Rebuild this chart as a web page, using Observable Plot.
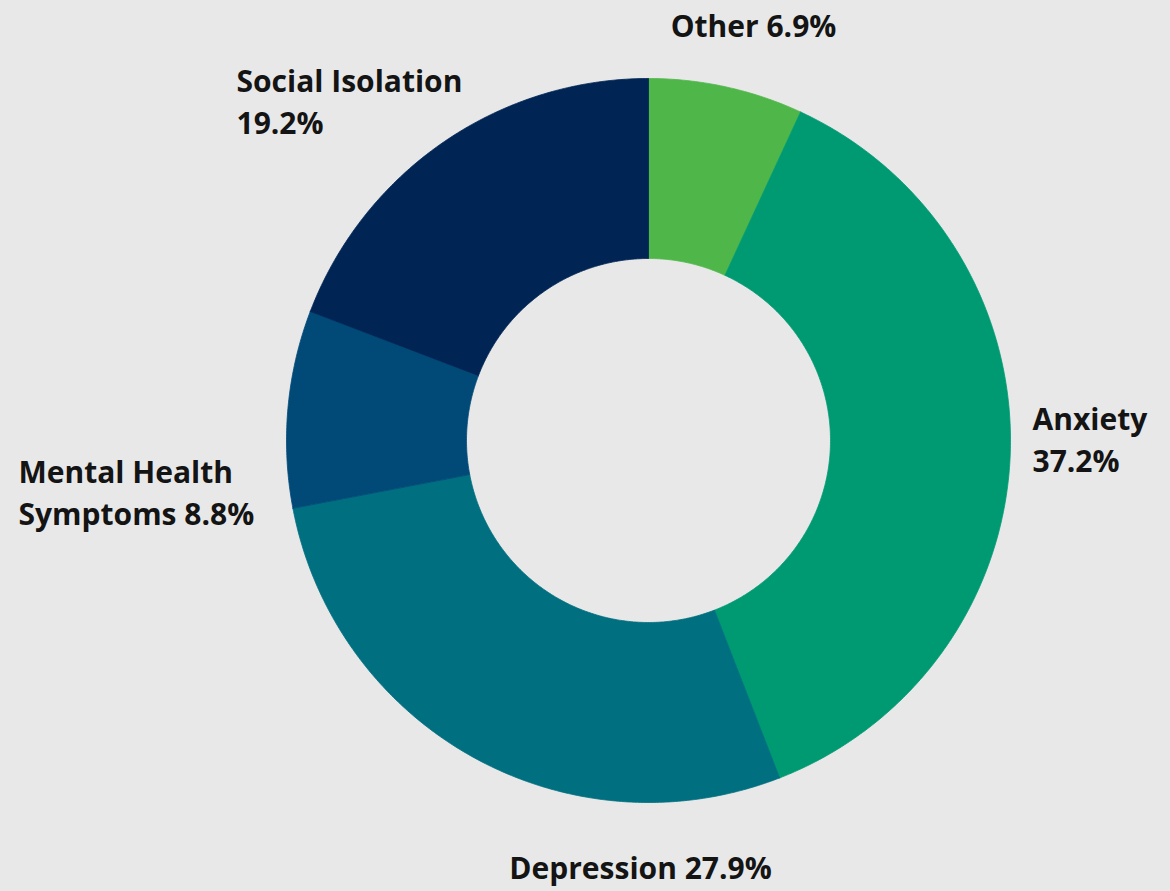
<!DOCTYPE html>
<html>
<head>
<meta charset="utf-8">
<script src="https://cdn.jsdelivr.net/npm/d3@7"></script>
<script src="https://cdn.jsdelivr.net/npm/@observablehq/plot@0.6"></script>
<style>
  html, body { margin: 0; padding: 0; background: #e8e8e8; }
  #chart svg { display: block; }
</style>
</head>
<body>
<div id="chart"></div>
<script>
// ---- data ----
const categories = ["Other", "Anxiety", "Depression", "Mental Health Symptoms", "Social Isolation"];
const values = [6.9, 37.2, 27.9, 8.8, 19.2];
const colors = ["#4fb74a", "#009a72", "#006f80", "#014a78", "#002554"];
const labelNames = ["Other", "Anxiety", "Depression", "Mental Health\nSymptoms", "Social Isolation"];
const labelBreak = [" ", "\n", " ", " ", "\n"];

// ---- layout ----
const W = 1170, H = 891;
const cx = 648, cy = 440, R = 362, r = 182;
// label anchor in pixels (last-line baseline) and text anchor
const labelLayout = [
  {px: 753, py: 36, anchor: "middle"},
  {px: 1032, py: 471, anchor: "start"},
  {px: 640, py: 878, anchor: "middle"},
  {px: 18, py: 524, anchor: "start"},
  {px: 236, py: 133, anchor: "start"}
];

const pie = d3.pie().sort(null).value(d => d.value);
const rows = categories.map((c, i) => ({category: c, value: values[i]}));
const arcs = pie(rows);

// polygon points for each slice (in data units: pixel offsets from centre, y up)
const pts = [];
arcs.forEach(a => {
  const n = Math.max(8, Math.ceil((a.endAngle - a.startAngle) / (Math.PI / 360)));
  const seg = [];
  for (let k = 0; k <= n; k++) {
    const t = a.startAngle + (a.endAngle - a.startAngle) * k / n;
    seg.push({category: a.data.category, x: R * Math.sin(t), y: R * Math.cos(t)});
  }
  for (let k = n; k >= 0; k--) {
    const t = a.startAngle + (a.endAngle - a.startAngle) * k / n;
    seg.push({category: a.data.category, x: r * Math.sin(t), y: r * Math.cos(t)});
  }
  seg.push({...seg[0]});
  pts.push(...seg);
});

const labels = categories.map((c, i) => ({
  text: labelNames[i] + labelBreak[i] + values[i].toFixed(1) + "%",
  x: labelLayout[i].px - cx,
  y: cy - labelLayout[i].py,
  anchor: labelLayout[i].anchor
}));

const textOpts = {
  fontSize: 30,
  fontWeight: 700,
  fill: "#141414",
  lineAnchor: "bottom",
  lineHeight: 1.4
};

const chart = Plot.plot({
  width: W,
  height: H,
  margin: 0,
  style: {background: "#e8e8e8", fontFamily: "'Open Sans', sans-serif"},
  x: {domain: [-cx, W - cx], axis: null},
  y: {domain: [cy - H, cy], axis: null},
  color: {type: "ordinal", domain: categories, range: colors},
  marks: [
    Plot.line(pts, {x: "x", y: "y", z: "category", fill: "category", stroke: "category", strokeWidth: 0.8, curve: "linear"}),
    Plot.text(labels.filter(d => d.anchor === "start"), {x: "x", y: "y", text: "text", textAnchor: "start", ...textOpts}),
    Plot.text(labels.filter(d => d.anchor === "middle"), {x: "x", y: "y", text: "text", textAnchor: "middle", ...textOpts})
  ]
});
document.getElementById("chart").appendChild(chart);
</script>
</body>
</html>
